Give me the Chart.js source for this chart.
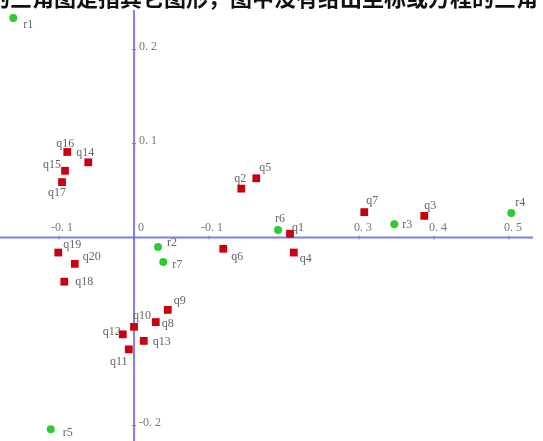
<!DOCTYPE html>
<html>
<head>
<meta charset="utf-8">
<script src="https://cdn.jsdelivr.net/npm/chart.js@4/dist/chart.umd.min.js"></script>
<style>
body { margin: 0; background: #fff; overflow: hidden; }
#wrap { position: relative; width: 543px; height: 441px; }
#cut { position: absolute; left: -12px; top: -16px; z-index: 2; font: bold 22px "Noto Sans CJK SC"; line-height: 24px; white-space: nowrap; color: #111; }
</style>
</head>
<body>
<div id="wrap">
  <div id="cut">的三角图是指其它图形，图中没有给出坐标或方程的三角</div>
  <canvas id="plot" width="543" height="441"></canvas>
</div>
<script>
// row points (q) and column points (r)
var qNames = ['q1','q2','q3','q4','q5','q6','q7','q8','q9','q10','q11','q12','q13','q14','q15','q16','q17','q18','q19','q20'];
var qX = [0.208, 0.143, 0.387, 0.213, 0.163, 0.119, 0.307, 0.029, 0.045, 0.000, -0.007, -0.015, 0.013, -0.061, -0.092, -0.089, -0.096, -0.093, -0.101, -0.079];
var qY = [0.004, 0.052, 0.023, -0.016, 0.063, -0.012, 0.027, -0.090, -0.077, -0.095, -0.119, -0.103, -0.110, 0.080, 0.071, 0.091, 0.059, -0.047, -0.016, -0.028];

var rNames = ['r1','r2','r3','r4','r5','r6','r7'];
var rX = [-0.161, 0.032, 0.347, 0.503, -0.111, 0.192, 0.039];
var rY = [0.2335, -0.010, 0.014, 0.026, -0.204, 0.008, -0.026];

var xTickValues = [-0.1, 0, 0.1, 0.3, 0.4, 0.5];
var xTickLabels = ['-0. 1', '0', '-0. 1', '0. 3', '0. 4', '0. 5'];
var yTickValues = [0.2, 0.1, -0.2];
var yTickLabels = ['0. 2', '0. 1', '-0. 2'];

// where each point's name sits relative to its marker (px)
var labelOffsets = {
    q1: [8, -6], q2: [-1, -10], q3: [6, -10], q4: [12, 6], q5: [9, -10],
    q6: [14, 8], q7: [8, -11], q8: [12, 2], q9: [12, -9], q10: [8, -11],
    q11: [-10, 12], q12: [-11, -2], q13: [18, 1], q14: [-3, -9], q15: [-13, -6],
    q16: [-2, -8], q17: [-5, 11], q18: [20, 0], q19: [14, -8], q20: [17, -7],
    r1: [15, 7], r2: [14, -4], r3: [13, 0], r4: [9, -10], r5: [17, 4],
    r6: [2, -11], r7: [14, 3]
};

function toPoints(xs, ys) {
    return xs.map(function (x, i) { return { x: x, y: ys[i] }; });
}

var axisColor = 'rgba(112,112,236,0.9)';

var axesPlugin = {
    id: 'axes',
    beforeDatasetsDraw: function (chart) {
        var ctx = chart.ctx;
        var xs = chart.scales.x, ys = chart.scales.y;
        var x0 = xs.getPixelForValue(0), y0 = ys.getPixelForValue(0);
        ctx.save();
        ctx.strokeStyle = axisColor;
        ctx.lineWidth = 2;
        ctx.beginPath();
        ctx.moveTo(0, y0); ctx.lineTo(533, y0);
        ctx.moveTo(x0, 10); ctx.lineTo(x0, chart.height);
        ctx.stroke();
        ctx.lineWidth = 1;
        ctx.beginPath();
        xTickValues.forEach(function (v) {
            var px = xs.getPixelForValue(v);
            ctx.moveTo(px, y0 - 2); ctx.lineTo(px, y0 + 2);
        });
        yTickValues.forEach(function (v) {
            var py = ys.getPixelForValue(v);
            ctx.moveTo(x0 - 2, py); ctx.lineTo(x0 + 2, py);
        });
        ctx.stroke();

        ctx.fillStyle = '#777';
        ctx.font = '12px "Liberation Serif"';
        ctx.textBaseline = 'middle';
        ctx.textAlign = 'left';
        xTickValues.forEach(function (v, i) {
            var px = xs.getPixelForValue(v);
            var off = v < 0 || i == 2 ? -8 : (v == 0 ? 4 : -5);
            ctx.fillText(xTickLabels[i], px + off, y0 - 10);
        });
        yTickValues.forEach(function (v, i) {
            var py = ys.getPixelForValue(v);
            ctx.fillText(yTickLabels[i], x0 + 5, py - 3);
        });
        ctx.restore();
    }
};

var namesPlugin = {
    id: 'names',
    afterDatasetsDraw: function (chart) {
        var ctx = chart.ctx;
        ctx.save();
        ctx.fillStyle = '#666';
        ctx.font = '12px "Liberation Serif"';
        ctx.textAlign = 'center';
        ctx.textBaseline = 'middle';
        [qNames, rNames].forEach(function (names, d) {
            var meta = chart.getDatasetMeta(d);
            names.forEach(function (n, i) {
                var el = meta.data[i];
                var o = labelOffsets[n] || [10, 0];
                ctx.fillText(n, el.x + o[0], el.y + o[1]);
            });
        });
        ctx.restore();
    }
};

new Chart(document.getElementById('plot'), {
    type: 'scatter',
    data: {
        datasets: [{
            label: 'q',
            data: toPoints(qX, qY),
            pointStyle: 'rect',
            pointRadius: 5.5,
            backgroundColor: '#c8000f',
            borderWidth: 0,
            clip: false
        }, {
            label: 'r',
            data: toPoints(rX, rY),
            pointStyle: 'circle',
            pointRadius: 4,
            backgroundColor: '#2ecc2e',
            borderWidth: 0,
            clip: false
        }]
    },
    options: {
        responsive: false,
        animation: false,
        layout: { padding: 0, autoPadding: false },
        plugins: { legend: { display: false }, tooltip: { enabled: false } },
        scales: {
            x: { display: false, min: -0.1787, max: 0.5453 },
            y: { display: false, min: -0.2165, max: 0.2527 }
        }
    },
    plugins: [axesPlugin, namesPlugin]
});
</script>
</body>
</html>
